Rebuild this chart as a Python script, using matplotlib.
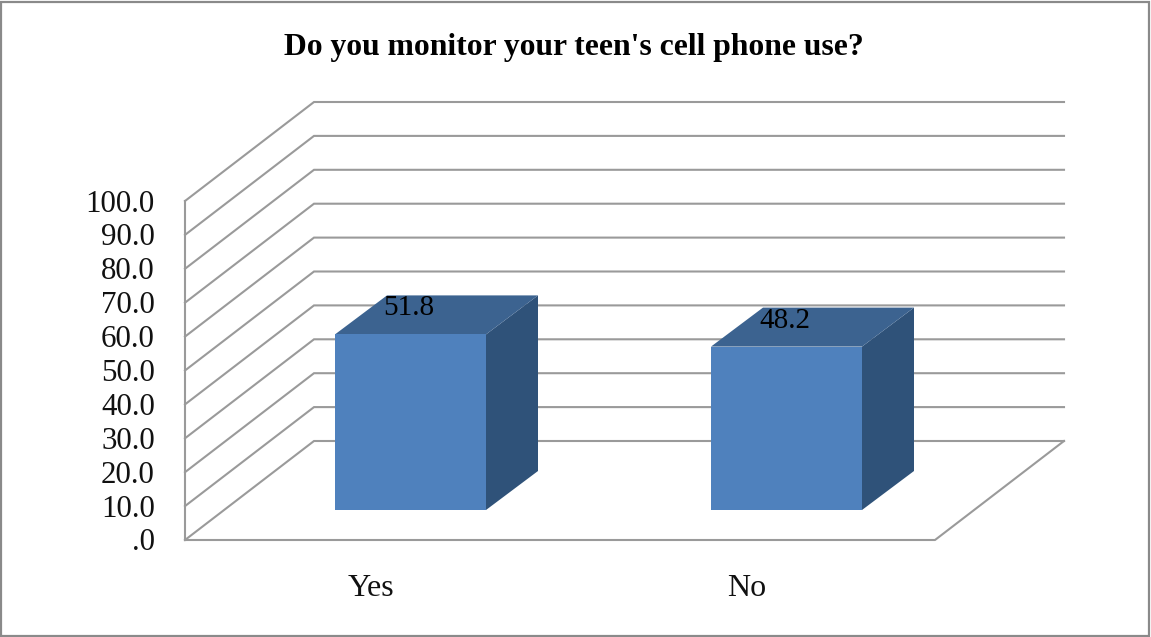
import numpy as np
import matplotlib
matplotlib.use("Agg")
import matplotlib.pyplot as plt
from matplotlib.patches import Polygon, Rectangle

plt.rcParams['font.family'] = ['Liberation Serif', 'DejaVu Serif']

title = "Do you monitor your teen's cell phone use?"
categories = ["Yes", "No"]
values = [51.8, 48.2]
value_labels = ["51.8", "48.2"]
ticks = [0, 10, 20, 30, 40, 50, 60, 70, 80, 90, 100]
tick_labels = [".0", "10.0", "20.0", "30.0", "40.0", "50.0", "60.0", "70.0", "80.0", "90.0", "100.0"]

W, H = 1151, 637
fig = plt.figure(figsize=(W / 100, H / 100), dpi=100)
ax = fig.add_axes([0, 0, 1, 1])
ax.set_xlim(0, W)
ax.set_ylim(H, 0)
ax.axis("off")

# front floor corners and depth offset of the fake 3d box
x0, x1 = 185, 935
y_base, y_top = 540, 201
dx, dy = 129, -99
unit = (y_base - y_top) / 100.0
grid_col = "#9a9a9a"

def val_y(v):
    return y_base - v * unit

ax.add_patch(Rectangle((1.5, 1.5), W - 3, H - 2.5, fill=False, ec="#8a8a8a", lw=1.6))
ax.text(574, 47, title, ha="center", va="center", fontsize=22.8, fontweight="bold", color="black")

# walls and gridlines
for v in ticks:
    y = val_y(v)
    ax.plot([x0, x0 + dx, x1 + dx], [y, y + dy, y + dy], color=grid_col, lw=1.5, solid_joinstyle="miter")
ax.plot([x0, x0], [y_base, y_top], color=grid_col, lw=1.5)
ax.plot([x0, x1, x1 + dx], [y_base, y_base, y_base + dy], color=grid_col, lw=1.5)

for v, lab in zip(ticks, tick_labels):
    ax.text(155, val_y(v) + 3, lab, ha="right", va="center", fontsize=22.3, color="#111111")

# bars
bar_lefts = [335, 711]
bar_w = 151
bar_base = 510
bar_dx, bar_dy = 52, -39
for left, v, cat, lab in zip(bar_lefts, values, categories, value_labels):
    top = bar_base - v * unit
    right = left + bar_w
    ax.add_patch(Polygon([(right, bar_base), (right + bar_dx, bar_base + bar_dy),
                          (right + bar_dx, top + bar_dy), (right, top)], fc="#2f5279", ec="none", zorder=3))
    ax.add_patch(Polygon([(left, top), (right, top), (right + bar_dx, top + bar_dy),
                          (left + bar_dx, top + bar_dy)], fc="#3c6390", ec="none", zorder=3))
    ax.add_patch(Rectangle((left, top), bar_w, bar_base - top, fc="#4f81bd", ec="none", zorder=3))
    ax.text(left + 74, top - 26, lab, ha="center", va="center", fontsize=21, color="black", zorder=4)
    ax.text(left + 36, 588, cat, ha="center", va="center", fontsize=23, color="#111111")

fig.savefig("out.png", dpi=100)
